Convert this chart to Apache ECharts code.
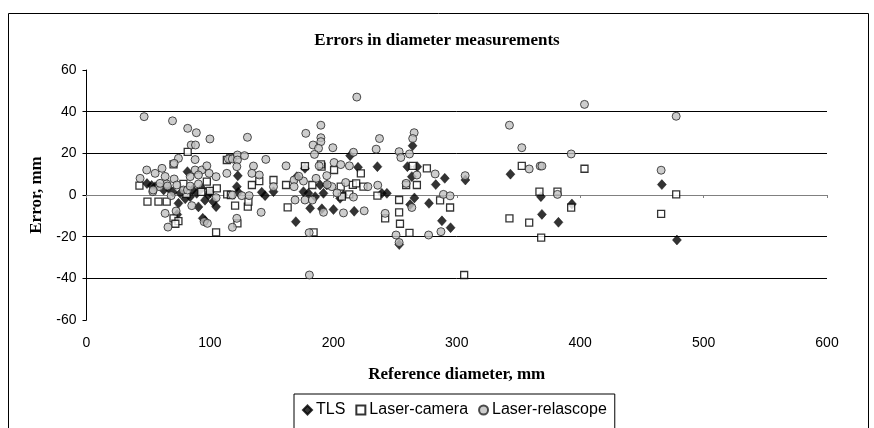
<!DOCTYPE html>
<html>
<head>
<meta charset="utf-8">
<script src="https://cdn.jsdelivr.net/npm/echarts@6/dist/echarts.min.js"></script>
<style>
  html, body { margin: 0; padding: 0; background: #fff; }
  #chart { width: 874px; height: 428px; }
</style>
</head>
<body>
<div id="chart"></div>
<script>
// reference diameter (mm) / error (mm) pairs
const tls = [
  [49, 5.5], [52.8, 4.6], [55.6, 4], [62.5, 2.4], [66, 3.5], [70, 1.5], [74.5, -4], [73.5, -9.4],
  [81.8, 11.2], [76, 0.8], [80, -1.8], [84, -0.8], [86, 2.5], [89.3, 0.8], [93.4, 3.2], [96, -2.5],
  [98.7, 0], [100, 1.5], [102.7, -3.2], [90.7, -5.7], [94.2, -11.2], [96.1, -12.3], [105, -5.6],
  [122.6, 9.2], [121.8, 4], [123, 1.3], [142, 1.3], [144.7, -0.3], [151.5, 1.6], [170.4, 8.8],
  [177, 12.8], [169.6, -12.8], [175.8, 1.6], [179.8, 0.8], [185.3, -0.8], [189.3, 4.8], [181.2, -6.4],
  [190.7, -6.6], [192, 0.8], [194.7, 4.8], [200.1, -7], [205.5, -1.6], [208.2, 0], [213.6, 18.9],
  [220, 13.3], [216.9, -7.8], [235.7, 13.6], [239.3, 0.8], [243.4, 0.8], [264.2, 23.6], [260, 13.6],
  [268, 13.6], [263.6, 8.8], [265.7, -1.4], [262.2, -4.6], [277.5, -4], [283, 5], [290.3, 8],
  [288, -12.4], [295, -15.7], [307, 7.2], [253.4, -23.8], [343.5, 10], [368.2, -0.8], [369, -9.3],
  [382.4, -13.1], [393.3, -4.3], [466.2, 5], [478.4, -21.6]
];
const laserCamera = [
  [42.9, 4.5], [49.4, -3.2], [58.3, -3.2], [65, -3.2], [70.5, -11.2], [74.5, -12.5], [72, -13.8],
  [82, 20.7], [70.5, 14.7], [78.5, 5.3], [81, 0.5], [93, 1.5], [100, 2], [97.5, 6.4], [105.6, 3.2],
  [105, -17.9], [113.7, 16.8], [114, 0.3], [116.4, 17.6], [117, 0], [120.4, -5.1], [122.3, -13.6],
  [130.7, -5.6], [131.2, -3.2], [134, 4.8], [140, 6.7], [151.5, 7.2], [161.7, 4.8], [163, -5.9],
  [177, 13.9], [183, 4.8], [184, -17.9], [190.5, 13.6], [190, 14.7], [200.6, 12], [222.3, 10.4],
  [206, 4], [212.9, 0.3], [215.8, 4.9], [218.5, 5.6], [224.4, 4], [206.9, -0.8], [235.7, -0.3],
  [242, -11.2], [253.3, -2.4], [253.3, -8.3], [254, -13.8], [261.7, -18.2], [259, 4.8], [267.7, 4.8],
  [275.8, 12.8], [264.3, 14], [286.5, -2.6], [294.6, -6], [306, -38.4], [342.7, -11.2], [352.7, 14],
  [358.7, -13.3], [367, 1.6], [368.4, -20.5], [381.6, 1.6], [392.7, -6.1], [403.5, 12.6],
  [465.6, -9.1], [477.8, 0.3]
];
const laserRelascope = [
  [46.7, 37.6], [69.7, 35.6], [82, 32], [89, 29.9], [100, 26.9], [84.8, 24], [88.3, 24], [74.5, 17.6],
  [71, 15.2], [88, 17], [48.8, 12], [43.4, 8], [55.6, 10.4], [61.2, 12.8], [63.7, 8.9], [71, 7.7],
  [65, 5.3], [59, 4], [53.7, 1.6], [68.6, -0.3], [78.5, 2.4], [81.8, 2.4], [84, 8.8], [88, 12],
  [93.4, 12], [97.5, 14], [90.7, 9.6], [99.4, 10.4], [105, 8.8], [105, -1.3], [85.3, -5.1],
  [63.7, -8.8], [72.6, -7.7], [66, -15.4], [95.3, -12.8], [98, -13.6], [59.6, 5.6], [65.6, 4.3],
  [54, 2.4], [73.2, 4.8], [84, 4.3], [90.7, 5.3],
  [113.7, 10.4], [115, 17.3], [118.2, 17.3], [122.3, 19.2], [122.3, 16.8], [128, 18.9], [121.8, 13.6],
  [135.3, 13.9], [134, 10.4], [140, 9.6], [145.3, 17.1], [130.4, 27.7], [118.2, 0], [125.8, -0.3],
  [131.8, -0.3], [141.5, -8.3], [121.8, -11.2], [118.2, -15.5], [151.5, 4], [161.7, 14],
  [177.7, 29.6], [189.9, 33.5], [189.9, 27.5], [189.9, 25.6], [183.6, 24], [188, 22.4], [184.7, 19.5],
  [168.2, 7.2], [168.2, 4], [175.8, 6.7], [169, -2.4], [177, -2.4], [183, -2.4], [180.4, -18.1],
  [180.6, -38.4], [188.5, 14], [192, -8.3], [199.6, 22.7], [219, 47], [194.7, 9.3], [198.8, 4],
  [216.3, 20.5], [200.6, 15.6], [206, 14.6], [213, 14], [216.3, -1], [208.2, -8.6], [225, -7.6],
  [186, 8], [195, 5], [203, 1], [210, 6], [228, 4], [172, 9],
  [237.4, 27.1], [234.7, 22], [265.5, 29.9], [264.3, 27.1], [253.3, 20.8], [254.7, 18], [261.7, 19.7],
  [236, 4.7], [242, -8.8], [259, 5.6], [267.7, 9.6], [263.6, -6], [250.8, -19.2], [253.3, -22.8],
  [277.2, -19.2], [287.2, -17.6], [282.5, 10.1], [289.2, 0.3], [294.6, -0.4], [306.8, 9.3],
  [342.7, 33.5], [352.7, 22.7], [358.7, 12.5], [367.6, 13.9], [369, 13.9], [381.6, 0.3],
  [392.7, 19.7], [403.5, 43.5], [465.6, 11.9], [477.8, 37.8]
];
const seriesNames = ['TLS', 'Laser-camera', 'Laser-relascope'];

const sans = 'Liberation Sans, Arial, sans-serif';
const serif = 'Liberation Serif, Times New Roman, serif';

const chart = echarts.init(document.getElementById('chart'));
chart.setOption({
  animation: false,
  backgroundColor: '#fff',
  graphic: [{
    type: 'rect',
    shape: { x: 8.5, y: 13.5, width: 860, height: 440 },
    style: { fill: 'none', stroke: '#000', lineWidth: 1 },
    silent: true
  }],
  title: {
    text: 'Errors in diameter measurements',
    left: 'center',
    top: 27,
    textStyle: { fontFamily: serif, fontWeight: 'bold', fontSize: 17, color: '#000' }
  },
  legend: {
    data: seriesNames,
    left: 294,
    top: 394,
    padding: [8, 8, 14, 8],
    itemGap: 10,
    itemWidth: 9,
    itemHeight: 9,
    borderColor: '#000',
    borderWidth: 1,
    backgroundColor: '#fff',
    textStyle: { fontFamily: sans, fontSize: 16, color: '#000', padding: [0, 0, 0, -1] }
  },
  grid: { left: 86.5, right: 47, top: 70, bottom: 108, outerBoundsMode: 'none', containLabel: false },
  xAxis: [
    {
      // labels and title along the bottom of the plot
      type: 'value',
      min: 0,
      max: 600,
      interval: 100,
      position: 'bottom',
      name: 'Reference diameter, mm',
      nameLocation: 'middle',
      nameGap: 46,
      nameTextStyle: { fontFamily: serif, fontWeight: 'bold', fontSize: 17, color: '#000' },
      axisLine: { show: false, onZero: false },
      axisTick: { show: false },
      axisLabel: { margin: 16, fontFamily: sans, fontSize: 14, color: '#000' },
      splitLine: { show: false }
    },
    {
      // the zero line with its ticks
      type: 'value',
      min: 0,
      max: 600,
      interval: 100,
      position: 'bottom',
      axisLine: { show: true, onZero: true, lineStyle: { color: '#808080', width: 1 } },
      axisTick: { show: true, length: 3, lineStyle: { color: '#808080' } },
      axisLabel: { show: false },
      splitLine: { show: false }
    }
  ],
  yAxis: {
    type: 'value',
    min: -60,
    max: 60,
    interval: 20,
    name: 'Error, mm',
    nameLocation: 'middle',
    nameGap: 39,
    nameTextStyle: { fontFamily: serif, fontWeight: 'bold', fontSize: 17, color: '#000' },
    axisLine: { show: true, lineStyle: { color: '#000', width: 1 } },
    axisTick: { show: true, length: 4, lineStyle: { color: '#000' } },
    axisLabel: { margin: 10, fontFamily: sans, fontSize: 14, color: '#000' },
    splitLine: { show: true, showMinLine: false, showMaxLine: false, lineStyle: { color: '#000', width: 1 } }
  },
  series: [
    {
      name: 'TLS',
      type: 'scatter',
      data: tls,
      symbol: 'diamond',
      symbolSize: [9, 10],
      itemStyle: { color: '#000', borderColor: '#000', borderWidth: 0.5 }
    },
    {
      name: 'Laser-camera',
      type: 'scatter',
      data: laserCamera,
      symbol: 'rect',
      symbolSize: 7,
      itemStyle: { color: '#fff', borderColor: '#000', borderWidth: 1.3 }
    },
    {
      name: 'Laser-relascope',
      type: 'scatter',
      data: laserRelascope,
      symbol: 'circle',
      symbolSize: 8,
      itemStyle: { color: '#c0c0c0', borderColor: '#222', borderWidth: 1 }
    }
  ]
});
</script>
</body>
</html>
